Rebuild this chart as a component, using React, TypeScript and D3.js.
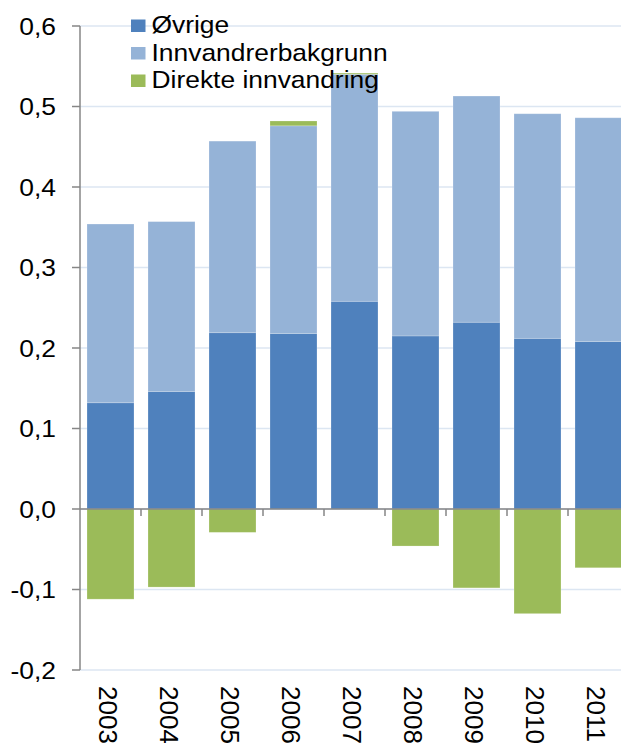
import React from "react";
import * as d3 from "d3";

const years = ["2003", "2004", "2005", "2006", "2007", "2008", "2009", "2010", "2011"];
const ovrige = [0.132, 0.146, 0.219, 0.218, 0.258, 0.215, 0.232, 0.212, 0.208];
const innvandrerbakgrunn = [0.222, 0.211, 0.238, 0.258, 0.282, 0.279, 0.281, 0.279, 0.278];
const direkte = [-0.112, -0.097, -0.029, 0.006, 0.0015, -0.046, -0.098, -0.130, -0.073];
const seriesNames = ["Øvrige", "Innvandrerbakgrunn", "Direkte innvandring"];
const seriesColors = ["#4f81bd", "#95b3d7", "#9bbb59"];
const yTicks = [-0.2, -0.1, 0, 0.1, 0.2, 0.3, 0.4, 0.5, 0.6];

const W = 621;
const H = 743;
const FONT = "'Liberation Sans', Arial, sans-serif";
const SX = 1.1;

export default function App() {
  const left = 80;
  const step = 61;
  const x = d3
    .scaleBand<string>()
    .domain(years)
    .range([left, left + step * years.length])
    .paddingInner(0.23)
    .paddingOuter(0.115);
  const y = d3.scaleLinear().domain([-0.2, 0.6]).range([670, 26]);

  const table = years.map((yr, i) => ({
    year: yr,
    s0: ovrige[i],
    s1: innvandrerbakgrunn[i],
    s2: direkte[i],
  }));
  const stack = d3
    .stack<any>()
    .keys(["s0", "s1", "s2"])
    .offset(d3.stackOffsetDiverging);
  const layers = stack(table);

  const fmt = (v: number) => v.toFixed(1).replace(".", ",");

  return (
    <svg
      width={W}
      height={H}
      style={{ position: "absolute", left: 0, top: 0, display: "block" }}
      fontFamily={FONT}
    >
      <rect x={0} y={0} width={W} height={H} fill="#fff" />
      {/* gridlines */}
      {yTicks.map((t) => (
        <line
          key={"g" + t}
          x1={left}
          x2={W + 10}
          y1={y(t)}
          y2={y(t)}
          stroke="#dce6f2"
          strokeWidth={1.5}
        />
      ))}
      {/* bars */}
      {layers.map((layer, li) => (
        <g key={layer.key} fill={seriesColors[li]}>
          {layer.map((d, i) => {
            const y0 = y(d[0]);
            const y1 = y(d[1]);
            const h = Math.abs(y0 - y1);
            if (h < 0.01) return null;
            return (
              <rect
                key={i}
                x={x(years[i])!}
                width={x.bandwidth()}
                y={Math.min(y0, y1)}
                height={h}
                stroke="rgba(255,255,255,0.25)"
                strokeWidth={0.8}
              />
            );
          })}
        </g>
      ))}
      {/* y axis */}
      <line x1={left} x2={left} y1={y(0.6)} y2={y(-0.2)} stroke="#868686" strokeWidth={1.5} />
      {yTicks.map((t) => (
        <g key={"t" + t}>
          <line x1={left - 8} x2={left} y1={y(t)} y2={y(t)} stroke="#868686" strokeWidth={1.5} />
          <g transform={`translate(56,${y(t)}) scale(${SX},1)`}>
            <text textAnchor="end" dy="0.36em" fontSize={24} fill="#000">
              {fmt(t)}
            </text>
          </g>
        </g>
      ))}
      {/* x axis */}
      <line x1={left} x2={W + 10} y1={y(0)} y2={y(0)} stroke="#868686" strokeWidth={1.5} />
      {years.map((yr, i) => (
        <line
          key={"xt" + yr}
          x1={left + step * (i + 1)}
          x2={left + step * (i + 1)}
          y1={y(0)}
          y2={y(0) + 7}
          stroke="#868686"
          strokeWidth={1.5}
        />
      ))}
      {years.map((yr) => (
        <g
          key={"xl" + yr}
          transform={`translate(${x(yr)! + x.bandwidth() / 2 - 2},686) rotate(90)`}
        >
          <text textAnchor="start" dy="0.36em" fontSize={26} fill="#000">
            {yr}
          </text>
        </g>
      ))}
      {/* legend */}
      {seriesNames.map((name, i) => {
        const base = [33, 60.5, 88][i];
        return (
          <g key={"lg" + name}>
            <rect x={131} y={base - 13.5} width={14.5} height={12.5} fill={seriesColors[i]} />
            <g transform={`translate(151.5,${base}) scale(${SX},1)`}>
              <text fontSize={24} fill="#000">
                {name}
              </text>
            </g>
          </g>
        );
      })}
    </svg>
  );
}
